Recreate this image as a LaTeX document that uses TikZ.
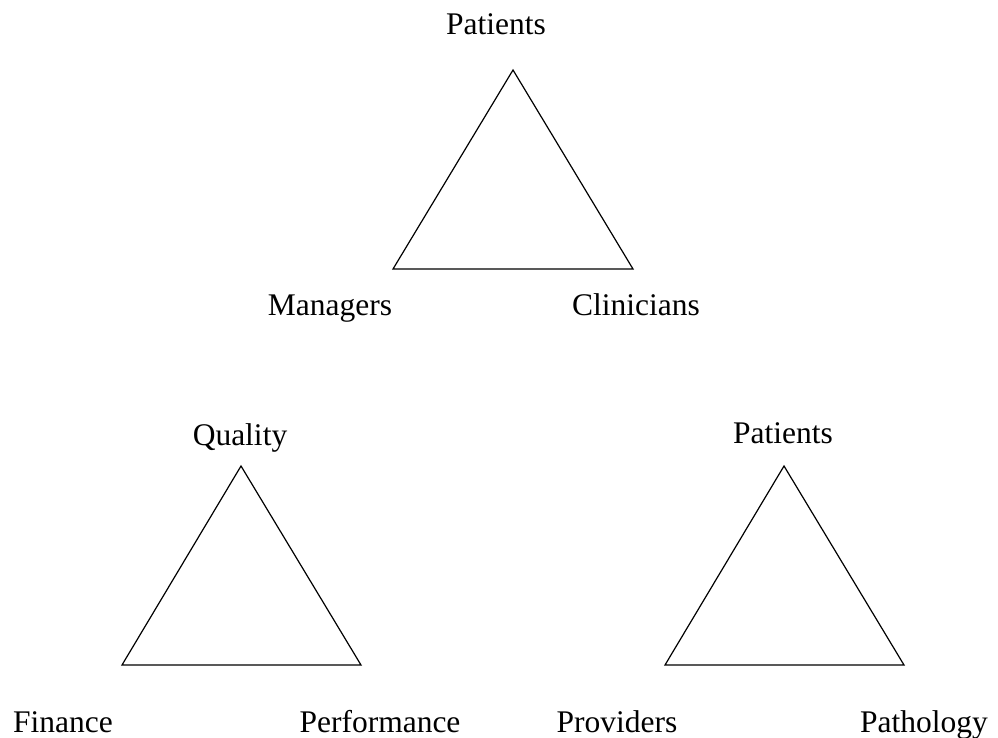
\documentclass[tikz,border=0pt]{standalone}
\usepackage{fontspec}
\setmainfont{Liberation Serif}
\begin{document}
\begin{tikzpicture}[x=1pt,y=-1pt,
  lbl/.style={font=\fontsize{31.5}{36}\selectfont, inner sep=0pt, anchor=base},
  tri/.style={draw=black, line width=1.2pt, line join=miter}]
\useasboundingbox (0,0) rectangle (998,738);
% top triangle
\coordinate (a1) at (513,70);
\coordinate (b1) at (393,269);
\coordinate (c1) at (633,269);
\draw[tri] (a1) -- (b1) -- (c1) -- cycle;
\node[lbl] (p1) at (496,35) {Patients};
\node[lbl] (m1) at (330,315) {Managers};
\node[lbl] (cl) at (636,315) {Clinicians};
% bottom left triangle
\coordinate (a2) at (241,466);
\coordinate (b2) at (122,665);
\coordinate (c2) at (361,665);
\draw[tri] (a2) -- (b2) -- (c2) -- cycle;
\node[lbl] (q) at (240,445) {Quality};
\node[lbl] (f) at (63,732) {Finance};
\node[lbl] (pe) at (380,732) {Performance};
% bottom right triangle
\coordinate (a3) at (784,466);
\coordinate (b3) at (665,665);
\coordinate (c3) at (904,665);
\draw[tri] (a3) -- (b3) -- (c3) -- cycle;
\node[lbl] (p2) at (783,443) {Patients};
\node[lbl] (pr) at (617,732) {Providers};
\node[lbl] (pa) at (924,732) {Pathology};
\end{tikzpicture}
\end{document}
